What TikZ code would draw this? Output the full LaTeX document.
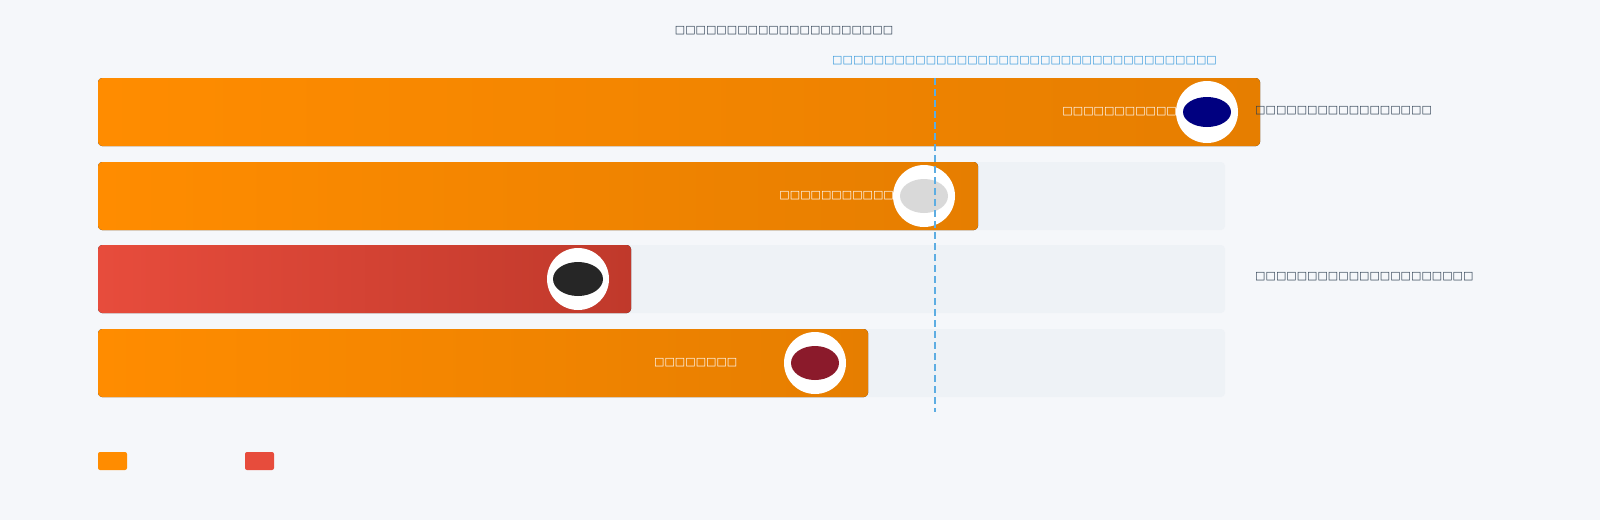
\documentclass[tikz,border=0pt]{standalone}
\usepackage{fontspec}
\newfontfamily\dv{DejaVu Sans}
\usetikzlibrary{shapes.geometric}
\definecolor{bg}{HTML}{F5F7FA}
\definecolor{track}{HTML}{EEF2F6}
\definecolor{orA}{HTML}{FF8C00}
\definecolor{orB}{HTML}{E67E00}
\definecolor{rdA}{HTML}{E74C3C}
\definecolor{rdB}{HTML}{C0392B}
\definecolor{ink}{HTML}{2C3E50}
\definecolor{sky}{HTML}{5DADE2}
\definecolor{skyt}{HTML}{3498DB}
\begin{document}
\begin{tikzpicture}[x=1pt,y=-1pt,
  lbl/.style={font=\dv\fontsize{11}{12}\selectfont,inner sep=0pt},
  trk/.style={fill=track,rounded corners=4pt},
  obar/.style={left color=orA,right color=orB,rounded corners=4pt},
  rbar/.style={left color=rdA,right color=rdB,rounded corners=4pt},
  pic/.style={circle,fill=white,minimum size=62pt,inner sep=0pt}]
\fill[bg] (0,0) rectangle (1600,520);
\useasboundingbox (0,0) rectangle (1600,520);
\node[lbl,text=ink] (title) at (784,31) {□□□□□□□□□□□□□□□□□□□□□};
% tracks
\fill[trk] (98,162) rectangle (1225,230);
\fill[trk] (98,245) rectangle (1225,313);
\fill[trk] (98,329) rectangle (1225,397);
% bars
\fill[obar] (98,78) rectangle (1260,146);
\fill[obar] (98,162) rectangle (978,230);
\fill[rbar] (98,245) rectangle (631,313);
\fill[obar] (98,329) rectangle (868,397);
% avatars
\node[pic] (c1) at (1207,112) {};
\fill[fill=blue!50!black] (c1) ellipse (24pt and 15pt);
\node[pic] (c2) at (924,196) {};
\fill[fill=gray!30] (c2) ellipse (24pt and 17pt);
\node[pic] (c3) at (578,279) {};
\fill[fill=black!85] (c3) ellipse (25pt and 17pt);
\node[pic] (c4) at (815,363) {};
\fill[fill={rgb,255:red,139;green,26;blue,43}] (c4) ellipse (24pt and 17pt);
% labels
\node[lbl,text=white,anchor=east] (l1) at (1177,112) {□□□□□□□□□□□};
\node[lbl,text=white,anchor=east] (l2) at (894,196) {□□□□□□□□□□□};
\node[lbl,text=white,anchor=west] (l4) at (654,363) {□□□□□□□□};
\node[lbl,text=ink,anchor=west] (r1) at (1255,111) {□□□□□□□□□□□□□□□□□};
\node[lbl,text=ink,anchor=west] (r3) at (1255,277) {□□□□□□□□□□□□□□□□□□□□□};
% reference line
\coordinate (dt) at (935,78);
\coordinate (db) at (935,412);
\draw[sky,line width=2pt,dash pattern=on 7pt off 4pt] (dt) -- (db);
\node[lbl,text=skyt,anchor=west] (ref) at (832,61) {□□□□□□□□□□□□□□□□□□□□□□□□□□□□□□□□□□□□□};
% legend
\fill[orA,rounded corners=2pt] (98,452) rectangle (127,470);
\fill[rdA,rounded corners=2pt] (245,452) rectangle (274,470);
\end{tikzpicture}
\end{document}
